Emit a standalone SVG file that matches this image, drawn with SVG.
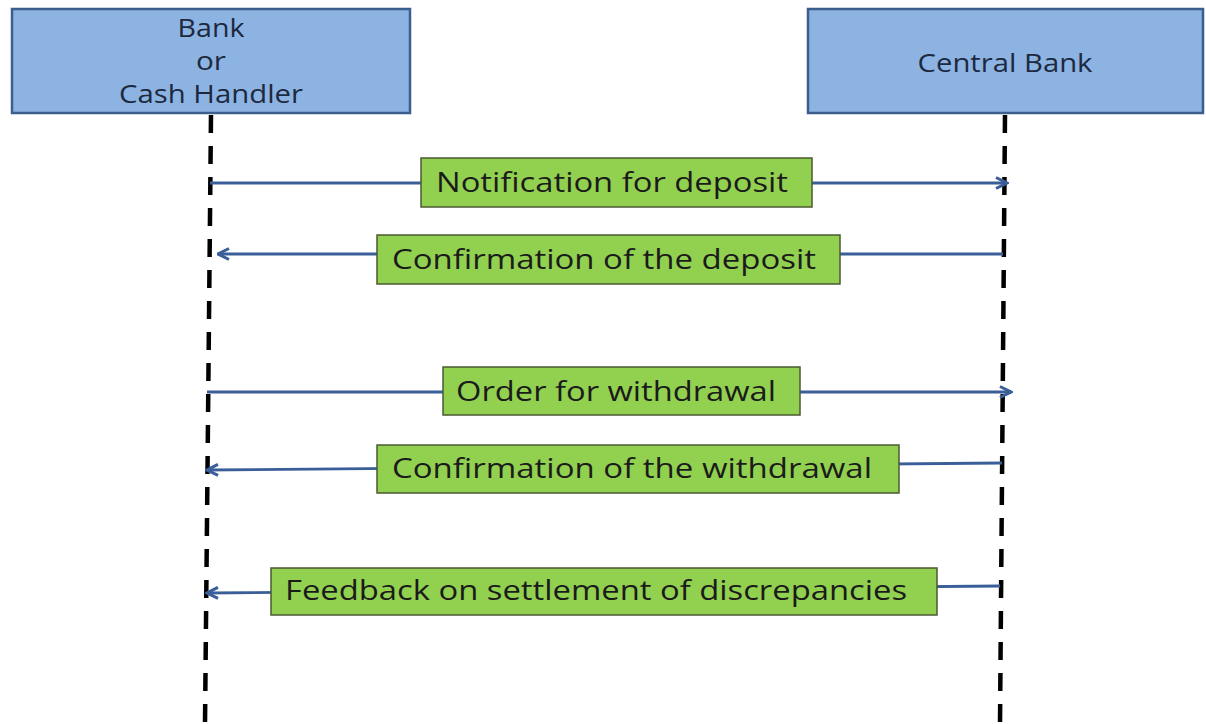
<svg xmlns="http://www.w3.org/2000/svg" width="1206" height="724" viewBox="0 0 1206 724">
<style>
.actor{fill:#8DB3E2;stroke:#3B5E8C;stroke-width:2.5}
.msg{fill:#92D050;stroke:#4A5A30;stroke-width:1.5}
.t{font-family:"Open Sans","Liberation Sans",sans-serif;fill:#1B1B1B;font-size:28px}
.at{font-family:"Open Sans","Liberation Sans",sans-serif;fill:#1C2940;font-size:25px;text-anchor:middle}
.life{stroke:#000;stroke-width:4.5;stroke-dasharray:18 13;fill:none}
.arr{stroke:#3A5E98;stroke-width:2.8;fill:none}
</style>
<defs>
<marker id="ah" viewBox="0 0 14 14" refX="12.5" refY="7" markerWidth="14" markerHeight="14" markerUnits="userSpaceOnUse" orient="auto">
<path d="M1.5,1.5 L12.5,7 L1.5,12.5" fill="none" stroke="#3A5E98" stroke-width="3"/>
</marker>
</defs>
<g id="lifelines">
<line class="life" x1="211" y1="115" x2="205" y2="724"/>
<line class="life" x1="1005" y1="115" x2="1000" y2="724"/>
</g>
<g id="bank">
<rect class="actor" x="12" y="9" width="398" height="104"/>
<text class="at" x="211" y="37" textLength="67" lengthAdjust="spacingAndGlyphs">Bank</text>
<text class="at" x="211" y="70" textLength="30" lengthAdjust="spacingAndGlyphs">or</text>
<text class="at" x="211" y="103" textLength="184" lengthAdjust="spacingAndGlyphs">Cash Handler</text>
</g>
<g id="central">
<rect class="actor" x="808" y="9" width="395" height="104"/>
<text class="at" x="1005" y="72" textLength="175" lengthAdjust="spacingAndGlyphs">Central Bank</text>
</g>
<g id="connectors">
<line class="arr" x1="210" y1="183" x2="1007" y2="183" marker-end="url(#ah)"/>
<line class="arr" x1="1003" y1="254" x2="218" y2="254" marker-end="url(#ah)"/>
<line class="arr" x1="207" y1="392" x2="1011" y2="392" marker-end="url(#ah)"/>
<line class="arr" x1="1002" y1="463" x2="207" y2="470" marker-end="url(#ah)"/>
<line class="arr" x1="1000" y1="586" x2="207" y2="593" marker-end="url(#ah)"/>
</g>
<g id="m1">
<rect class="msg" x="421" y="158" width="391" height="49"/>
<text class="t" x="436" y="192" textLength="352" lengthAdjust="spacingAndGlyphs">Notification for deposit</text>
</g>
<g id="m2">
<rect class="msg" x="377" y="235" width="463" height="49"/>
<text class="t" x="392" y="269" textLength="424" lengthAdjust="spacingAndGlyphs">Confirmation of the deposit</text>
</g>
<g id="m3">
<rect class="msg" x="443" y="367" width="357" height="48"/>
<text class="t" x="456" y="401" textLength="320" lengthAdjust="spacingAndGlyphs">Order for withdrawal</text>
</g>
<g id="m4">
<rect class="msg" x="377" y="445" width="522" height="48"/>
<text class="t" x="392" y="478" textLength="480" lengthAdjust="spacingAndGlyphs">Confirmation of the withdrawal</text>
</g>
<g id="m5">
<rect class="msg" x="271" y="568" width="666" height="47"/>
<text class="t" x="285" y="600" textLength="622" lengthAdjust="spacingAndGlyphs">Feedback on settlement of discrepancies</text>
</g>
</svg>
